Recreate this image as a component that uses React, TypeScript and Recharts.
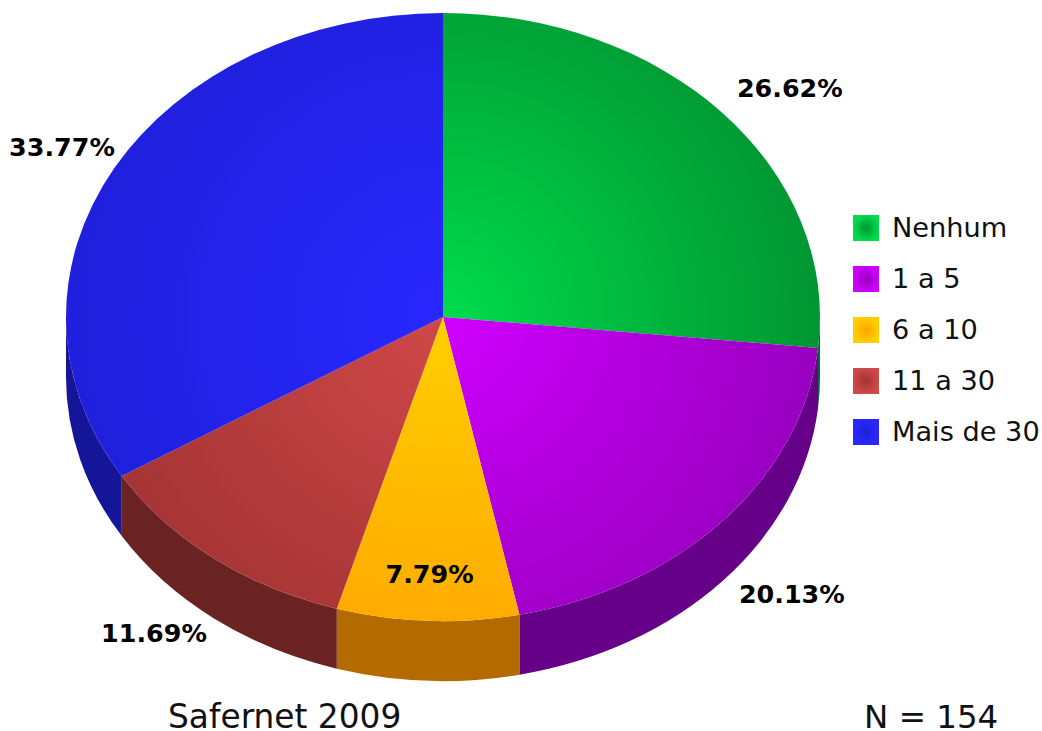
import { Legend, Pie, PieChart } from 'recharts';

const categories = ['Nenhum', '1 a 5', '6 a 10', '11 a 30', 'Mais de 30'];
const counts = [41, 31, 12, 18, 52];
const lightColors = ['#00dc4c', '#cf00ff', '#ffcf00', '#d04848', '#2828ff'];
const darkColors = ['#009632', '#9800bf', '#ffa300', '#a33333', '#1f1fdc'];
const sideColors = ['#00662b', '#660088', '#b36b00', '#6b2222', '#15159a'];

// label offsets from the rim point at each slice's mid angle
const labelOffsets = [
  [67, -25],
  [69, 73],
  [2, -47],
  [-60, 75],
  [-52, -22],
];

const WIDTH = 1042;
const HEIGHT = 731;
const CX = 443;
const CY = 317;
const RX = 377;
const RY = 304;
const DEPTH = 60;

const total = counts.reduce((sum, n) => sum + n, 0);
const rows = categories.map((name, i) => ({
  name,
  value: counts[i],
  fill: `url(#top-${i})`,
  sideFill: sideColors[i],
}));

const rim = (cx: number, cy: number, deg: number) => {
  const a = (deg * Math.PI) / 180;
  return [cx + RX * Math.cos(a), cy - RY * Math.sin(a)];
};

function TopSlice({ cx, cy, startAngle, endAngle, fill }: any) {
  const [x1, y1] = rim(cx, cy, startAngle);
  const [x2, y2] = rim(cx, cy, endAngle);
  const large = Math.abs(startAngle - endAngle) > 180 ? 1 : 0;
  return <path d={`M${cx},${cy} L${x1},${y1} A${RX},${RY} 0 ${large} 1 ${x2},${y2} Z`} fill={fill} />;
}

// only the front half of the rim is visible as a wall
function SideSlice({ cx, cy, startAngle, endAngle, sideFill, payload }: any) {
  const from = Math.min(startAngle, 0);
  const to = Math.max(endAngle, -180);
  if (from <= to) return null;
  const [x1, y1] = rim(cx, cy, from);
  const [x2, y2] = rim(cx, cy, to);
  return (
    <path
      d={`M${x1},${y1} A${RX},${RY} 0 0 1 ${x2},${y2} L${x2},${y2 + DEPTH} A${RX},${RY} 0 0 0 ${x1},${y1 + DEPTH} Z`}
      fill={sideFill ?? payload?.sideFill}
    />
  );
}

function PercentLabel({ cx, cy, midAngle, index, value }: any) {
  const [x, y] = rim(cx, cy, midAngle);
  return (
    <text
      x={x + labelOffsets[index][0]}
      y={y + labelOffsets[index][1]}
      textAnchor="middle"
      dominantBaseline="central"
      fontFamily="DejaVu Sans"
      fontWeight="bold"
      fontSize={25.4}
      fill="#000"
    >
      {((value / total) * 100).toFixed(2)}%
    </text>
  );
}

function LegendList({ payload }: any) {
  // the wall pie also reports entries, keep one per category in data order
  const names = categories.filter((name) => (payload ?? []).some((entry: any) => entry.value === name));
  return (
    <div style={{ fontFamily: 'DejaVu Sans', fontSize: 27.2, color: '#111' }}>
      {names.map((name) => (
        <div key={name} style={{ display: 'flex', alignItems: 'center', height: 51, whiteSpace: 'nowrap' }}>
          <svg width={26} height={26} style={{ marginRight: 13, flex: 'none' }}>
            <rect width={26} height={26} fill={`url(#swatch-${categories.indexOf(name)})`} />
          </svg>
          {name}
        </div>
      ))}
    </div>
  );
}

export default function App() {
  return (
    <div style={{ position: 'absolute', left: 0, top: 0, width: WIDTH, height: HEIGHT, background: '#fff' }}>
      <PieChart width={WIDTH} height={HEIGHT} margin={{ top: 0, right: 0, bottom: 0, left: 0 }}>
        <defs>
          {categories.map((name, i) => (
            <radialGradient key={name} id={`top-${i}`} gradientUnits="userSpaceOnUse" cx={CX} cy={CY} r={RX}>
              <stop offset="0%" stopColor={lightColors[i]} />
              <stop offset="100%" stopColor={darkColors[i]} />
            </radialGradient>
          ))}
          {categories.map((name, i) => (
            <radialGradient key={name} id={`swatch-${i}`}>
              <stop offset="0%" stopColor={darkColors[i]} />
              <stop offset="100%" stopColor={lightColors[i]} />
            </radialGradient>
          ))}
        </defs>
        <Pie
          data={rows}
          dataKey="value"
          nameKey="name"
          cx={CX}
          cy={CY}
          outerRadius={RX}
          startAngle={90}
          endAngle={-270}
          stroke="none"
          legendType="none"
          shape={SideSlice}
          isAnimationActive={false}
        />
        <Pie
          data={rows}
          dataKey="value"
          nameKey="name"
          cx={CX}
          cy={CY}
          outerRadius={RX}
          startAngle={90}
          endAngle={-270}
          stroke="none"
          shape={TopSlice}
          label={PercentLabel}
          labelLine={false}
          isAnimationActive={false}
        />
        <Legend
          layout="vertical"
          align="right"
          verticalAlign="middle"
          content={LegendList}
          wrapperStyle={{ left: 853, top: 202, right: 'auto', bottom: 'auto', width: 189 }}
        />
        <text x={168} y={728} fontFamily="DejaVu Sans" fontSize={32.8} fill="#111">
          Safernet 2009
        </text>
        <text x={864} y={728} fontFamily="DejaVu Sans" fontSize={32.5} fill="#111">
          N = 154
        </text>
      </PieChart>
    </div>
  );
}
